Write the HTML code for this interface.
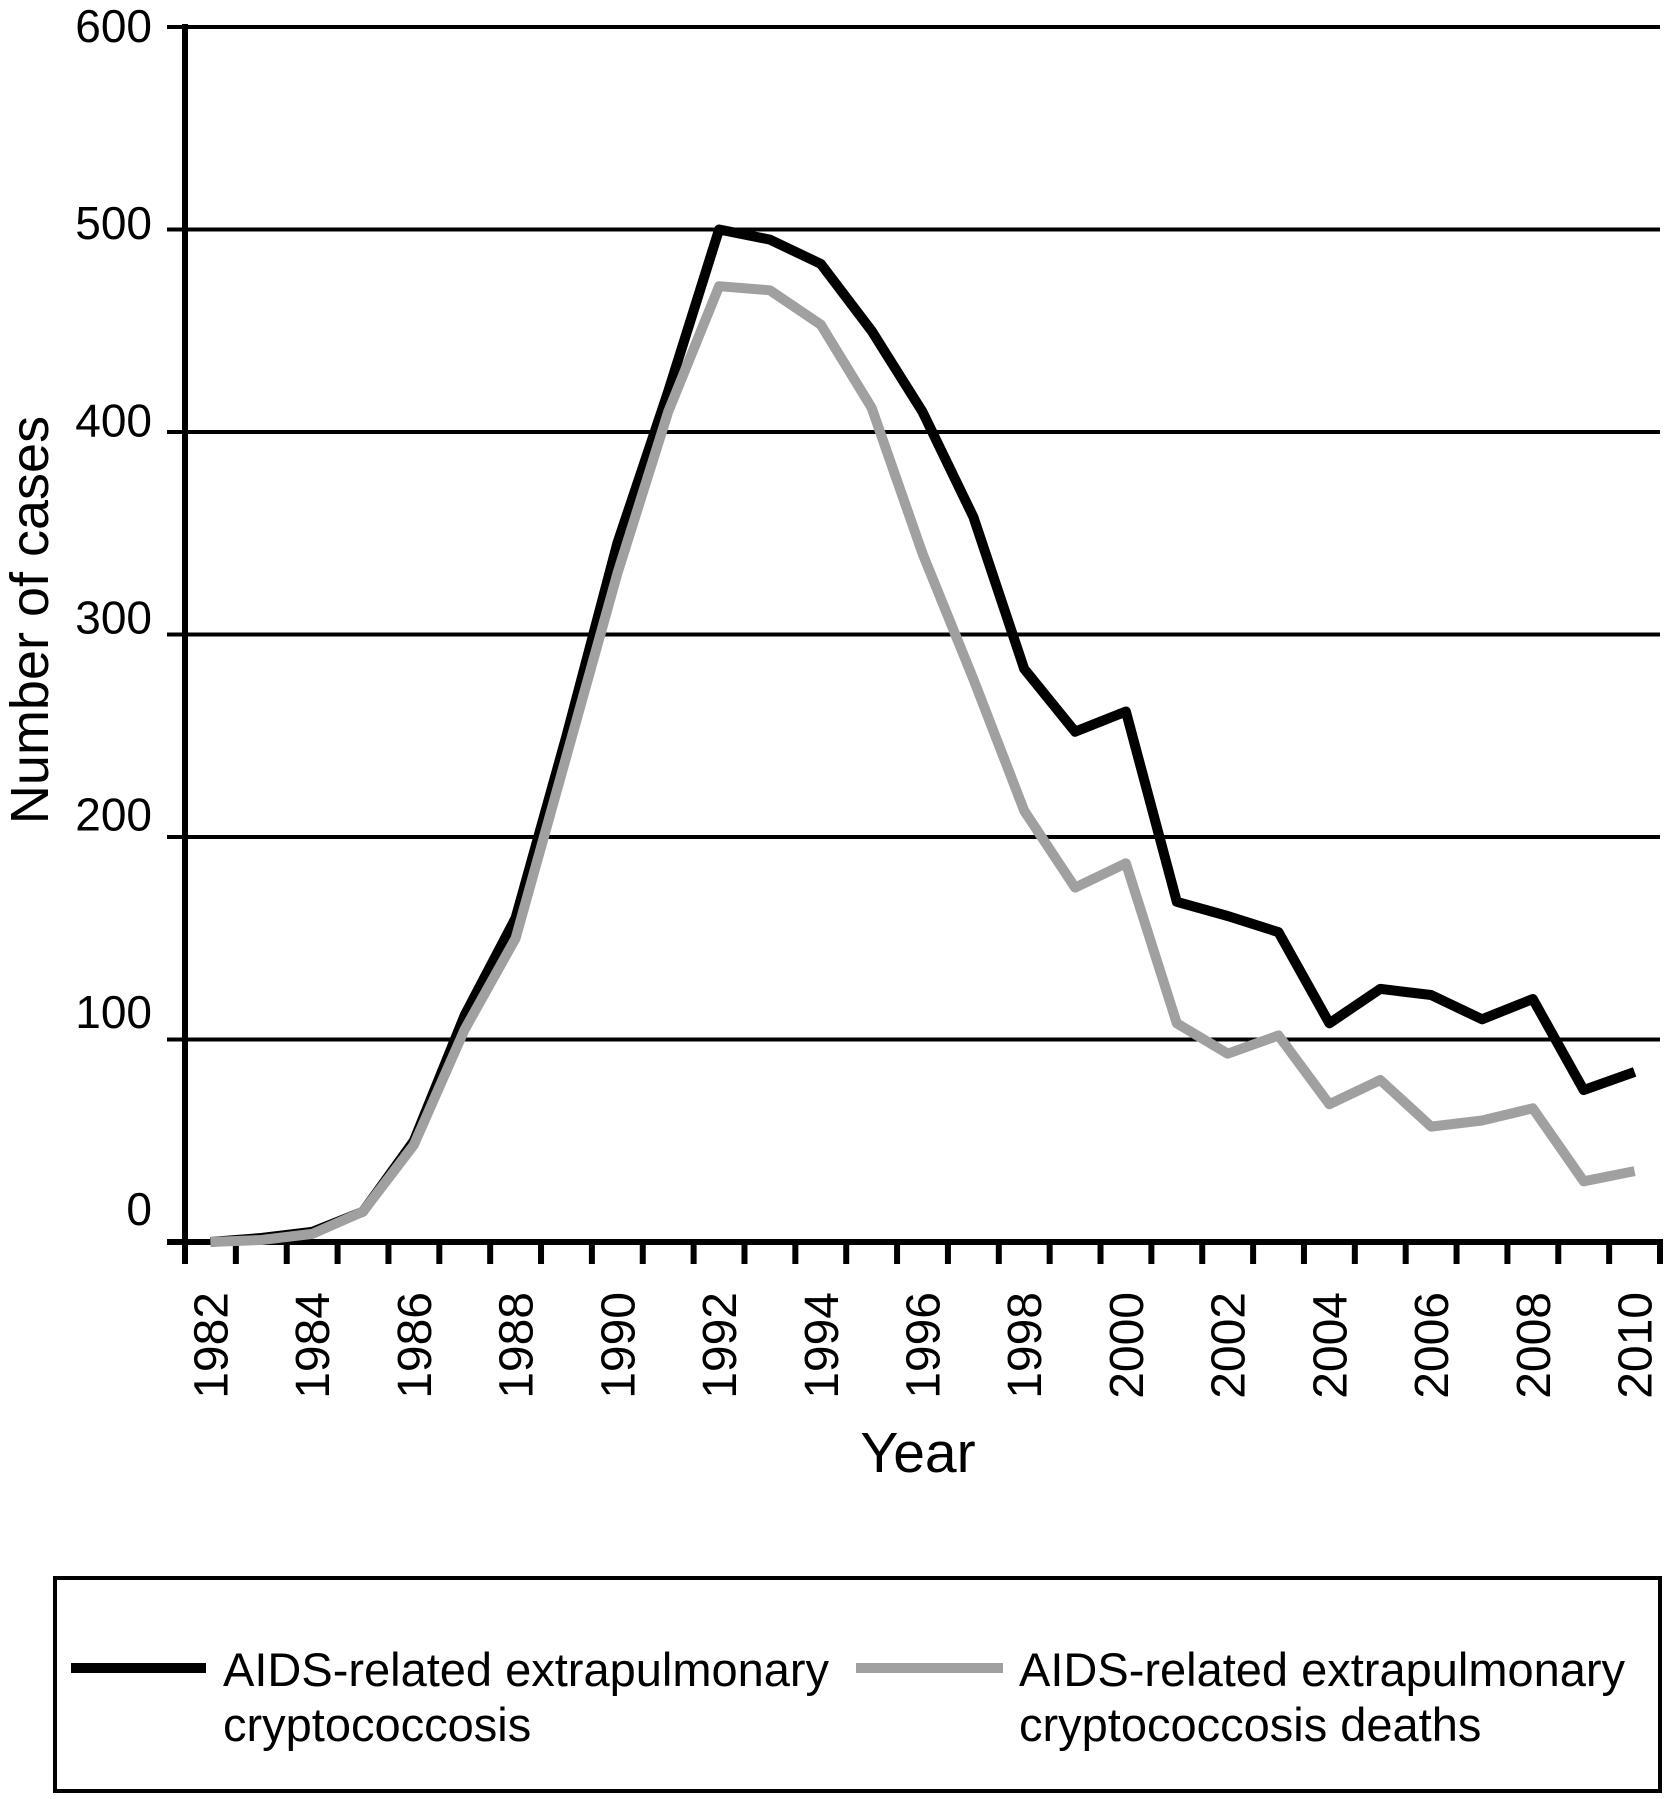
<!DOCTYPE html>
<html><head><meta charset="utf-8"><style>
body{margin:0;background:#fff;}
svg{display:block;font-family:"Liberation Sans",Arial,sans-serif;}
</style></head><body>
<svg id="chart" width="1667" height="1799" viewBox="0 0 1667 1799" xmlns="http://www.w3.org/2000/svg">
<g id="grid"></g>
<g id="axes"></g>
<g id="series"></g>
<text transform="translate(48,620) rotate(-90)" text-anchor="middle" font-size="54">Number of cases</text>
<text x="918" y="1472" text-anchor="middle" font-size="57">Year</text>
<g>
<rect x="55" y="1578" width="1605" height="213" fill="none" stroke="#000" stroke-width="4"/>
<line x1="71" y1="1668" x2="206" y2="1668" stroke="#000" stroke-width="10"/>
<text x="223" y="1686" font-size="47">AIDS-related extrapulmonary</text>
<text x="223" y="1741" font-size="47">cryptococcosis</text>
<line x1="856" y1="1668" x2="1003" y2="1668" stroke="#a0a0a0" stroke-width="10"/>
<text x="1019" y="1686" font-size="47">AIDS-related extrapulmonary</text>
<text x="1019" y="1741" font-size="47">cryptococcosis deaths</text>
</g>
</svg>
<script>
var years=[1982,1983,1984,1985,1986,1987,1988,1989,1990,1991,1992,1993,1994,1995,1996,1997,1998,1999,2000,2001,2002,2003,2004,2005,2006,2007,2008,2009,2010];
var casesValues=[0,2,5,15,50,112,160,250,345,420,500,495,483,450,410,358,283,252,262,168,161,153,108,125,122,110,120,75,84];
var deathsValues=[0,1,4,15,48,105,150,240,330,410,472,470,453,412,340,278,213,175,187,108,93,102,68,80,57,60,66,30,35];
var yTicks=[0,100,200,300,400,500,600];
var xLabelYears=[1982,1984,1986,1988,1990,1992,1994,1996,1998,2000,2002,2004,2006,2008,2010];

var NS="http://www.w3.org/2000/svg";
var X0=185,X1=1660,Y0=1242,Y600=27;
var step=(X1-X0)/years.length;
function xs(i){return X0+(i+0.5)*step;}
function ys(v){return Y0-(v/600)*(Y0-Y600);}
function mk(tag,attrs,parent){var e=document.createElementNS(NS,tag);for(var k in attrs)e.setAttribute(k,attrs[k]);parent.appendChild(e);return e;}
var grid=document.getElementById('grid'),axes=document.getElementById('axes'),series=document.getElementById('series');

yTicks.forEach(function(v){
  if(v>0){
    var g=mk('line',{x1:167,x2:X1,y1:ys(v),y2:ys(v),stroke:'#000','stroke-width':4},grid);
    
    
  }
  var cy=1208-1183*v/600;
  var t=mk('text',{x:152,y:cy+17,'text-anchor':'end','font-size':46},axes);
  t.textContent=v;
  
  
});
var ya=mk('line',{x1:X0,x2:X0,y1:Y600-3,y2:Y0+22,stroke:'#000','stroke-width':6},axes);


var xa=mk('line',{x1:167,x2:X1+3,y1:Y0,y2:Y0,stroke:'#000','stroke-width':6},axes);


for(var i=0;i<=years.length;i++){
  var tk=mk('line',{x1:X0+i*step,x2:X0+i*step,y1:Y0,y2:Y0+22,stroke:'#000','stroke-width':6},axes);
  
  
}
xLabelYears.forEach(function(y){
  var i=years.indexOf(y);var cx=xs(i);
  var t=mk('text',{transform:'translate('+(cx+17)+',1292) rotate(-90)','text-anchor':'end','font-size':48},axes);
  t.textContent=y;
  
  
});
function pathFor(vals){return vals.map(function(v,i){return (i?'L':'M')+xs(i).toFixed(1)+','+ys(v).toFixed(1);}).join(' ');}
var pc=mk('path',{d:pathFor(casesValues),fill:'none',stroke:'#000','stroke-width':10,'stroke-linejoin':'round'},series);


var pd=mk('path',{d:pathFor(deathsValues),fill:'none',stroke:'#a0a0a0','stroke-width':10,'stroke-linejoin':'round'},series);


</script>
</body></html>
